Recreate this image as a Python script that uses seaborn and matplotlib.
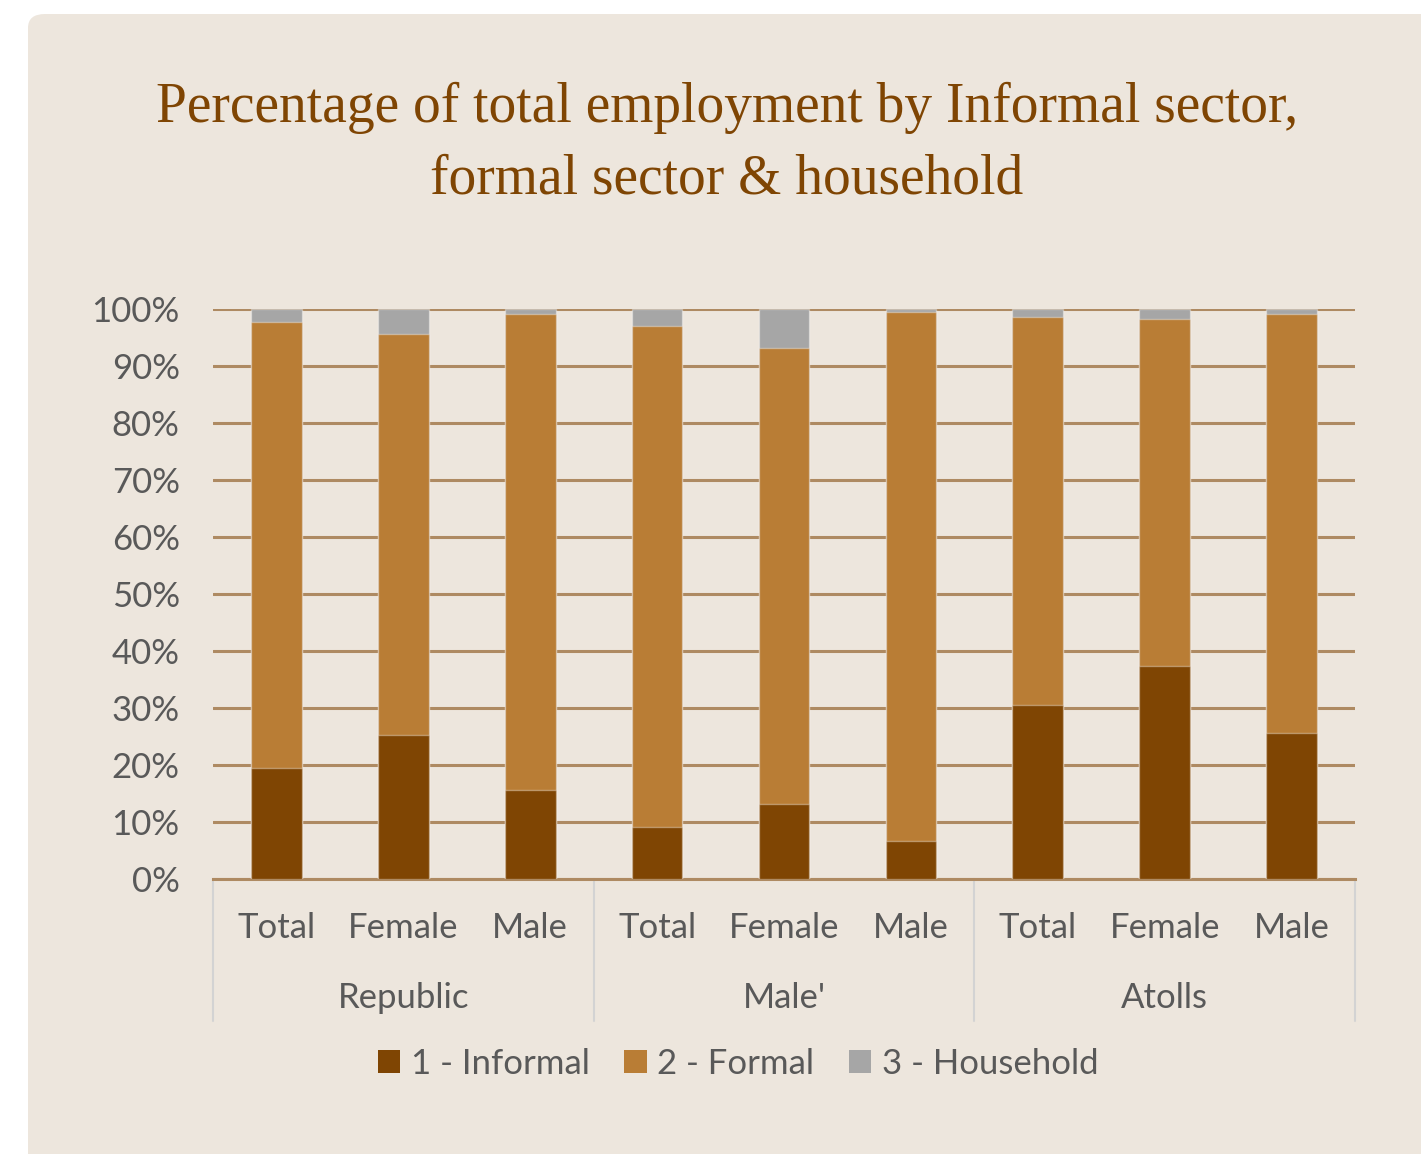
import matplotlib
matplotlib.use("Agg")
import matplotlib.pyplot as plt
from matplotlib.patches import FancyBboxPatch, Patch
from matplotlib.lines import Line2D
import matplotlib.transforms as mtransforms
import seaborn as sns
import pandas as pd

# Employment shares (%) by area and sex
groups = ["Republic", "Male'", "Atolls"]
sexes = ["Total", "Female", "Male"]
informal = [19.5, 25.2, 15.6, 9.1, 13.1, 6.6, 30.5, 37.3, 25.7]
formal = [78.3, 70.4, 83.6, 87.9, 80.0, 92.8, 68.1, 60.9, 73.4]
household = [2.2, 4.4, 0.8, 3.0, 6.9, 0.6, 1.4, 1.8, 0.9]
series_names = ["1 - Informal", "2 - Formal", "3 - Household"]
y_ticks = [0, 10, 20, 30, 40, 50, 60, 70, 80, 90, 100]

colors = {"1 - Informal": "#7F4503", "2 - Formal": "#B97D35", "3 - Household": "#A6A6A6"}
panel_bg = "#EDE6DD"
grid_col = "#AE8A62"
text_col = "#595959"
title_col = "#7F4503"

slots = [f"{g}|{s}" for g in groups for s in sexes]

# cumulative tops for stacking (drawn back-to-front)
rows = []
for i, slot in enumerate(slots):
    c1 = informal[i]
    c2 = c1 + formal[i]
    c3 = c2 + household[i]
    rows.append({"slot": slot, "series": "3 - Household", "top": c3})
    rows.append({"slot": slot, "series": "2 - Formal", "top": c2})
    rows.append({"slot": slot, "series": "1 - Informal", "top": c1})
df = pd.DataFrame(rows)

sns.set_theme(style="white")
plt.rcParams["font.family"] = ["Lato", "DejaVu Sans"]

W, H = 1421, 1154
fig = plt.figure(figsize=(W / 100, H / 100), dpi=100, facecolor="white")

panel = FancyBboxPatch((28 / W, -0.1), 1.2, (H - 14) / H + 0.1,
                       boxstyle="round,pad=0,rounding_size=0.012",
                       transform=fig.transFigure, facecolor=panel_bg,
                       edgecolor="none", zorder=-5)
fig.patches.append(panel)

ax = fig.add_axes([213 / W, 1 - 879 / H, 1142 / W, 570 / H])
ax.set_facecolor("none")
ax.set_zorder(2)

sns.barplot(data=df, x="slot", y="top", hue="series", order=slots,
            hue_order=["3 - Household", "2 - Formal", "1 - Informal"],
            palette=colors, dodge=False, width=0.4, saturation=1,
            edgecolor=(1, 1, 1, 0.35), linewidth=1, ax=ax, legend=False,
            zorder=3)

ax.set_xlim(-0.5, len(slots) - 0.5)
ax.set_ylim(0, 100)
ax.set_yticks(y_ticks)
ax.set_yticklabels([f"{v}%" for v in y_ticks])
ax.yaxis.grid(True, color=grid_col, linewidth=2.2, zorder=0)
ax.set_axisbelow(True)
for side in ["top", "right", "left"]:
    ax.spines[side].set_visible(False)
ax.spines["bottom"].set_color(grid_col)
ax.spines["bottom"].set_linewidth(2.2)
ax.tick_params(axis="both", length=0, labelsize=25, colors=text_col)
ax.tick_params(axis="y", pad=24)
ax.tick_params(axis="x", pad=24)
ax.set_xticks(range(len(slots)))
ax.set_xticklabels(sexes * len(groups))
ax.set_xlabel("")
ax.set_ylabel("")

# two-level category axis: group labels and separators
trans = mtransforms.blended_transform_factory(ax.transData, ax.transAxes)
sep_bottom = (879 - 1021) / 570
for k in range(len(groups) + 1):
    xpos = k * 3 - 0.5
    ax.add_line(Line2D([xpos, xpos], [0, sep_bottom], transform=trans,
                       color="#D3D3D3", linewidth=1.5, clip_on=False))
for k, g in enumerate(groups):
    ax.text(k * 3 + 1, (879 - 998) / 570, g, transform=trans, ha="center",
            va="center", fontsize=25, color=text_col)

# title
title_font = ["Liberation Serif", "DejaVu Serif"]
fig.text(727 / W, 1 - 122 / H, "Percentage of total employment by Informal sector,",
         ha="center", va="baseline", fontsize=40, color=title_col, family=title_font)
fig.text(727 / W, 1 - 194 / H, "formal sector & household",
         ha="center", va="baseline", fontsize=40, color=title_col, family=title_font)

# legend
handles = [Patch(facecolor=colors[n], edgecolor="none", label=n) for n in series_names]
fig.legend(handles=handles, loc="center", bbox_to_anchor=(738 / W, 1 - 1064 / H),
           ncol=3, frameon=False, fontsize=25, labelcolor=text_col,
           handlelength=0.65, handleheight=0.65, handletextpad=0.3, columnspacing=1.0)

fig.savefig("out.png", dpi=100, facecolor="white")
